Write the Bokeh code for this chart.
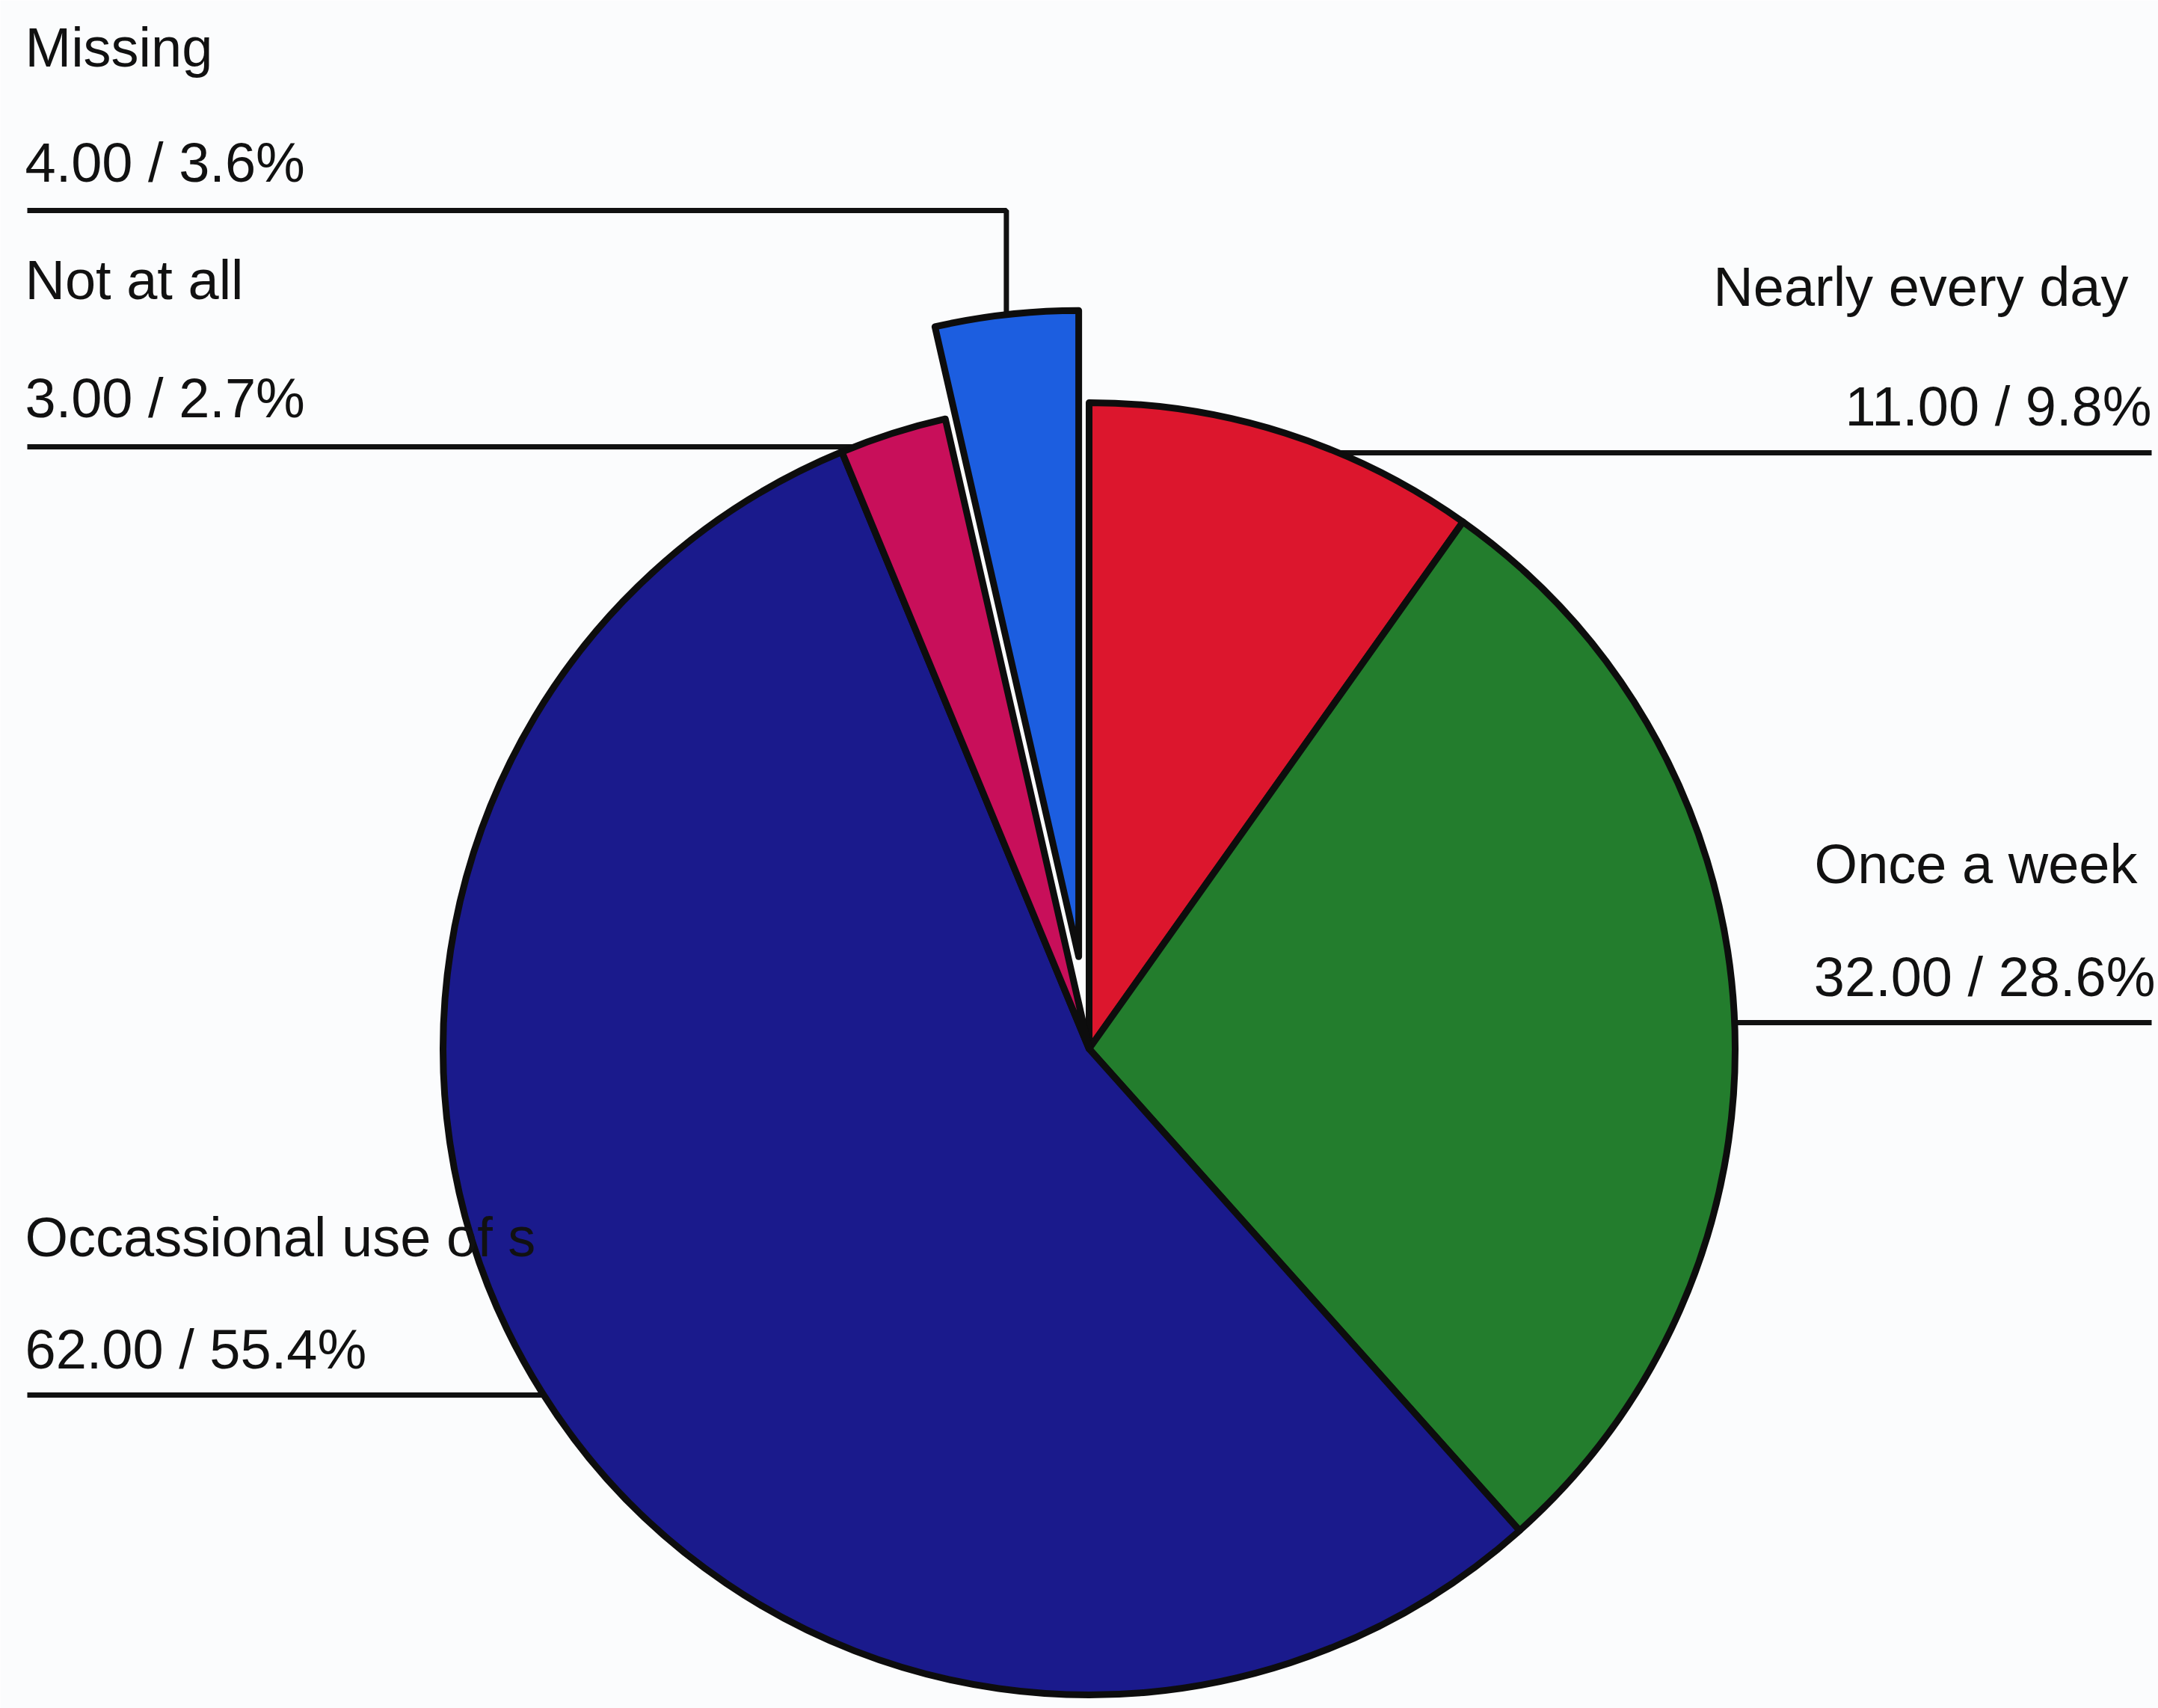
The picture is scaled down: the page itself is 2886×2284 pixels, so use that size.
import numpy as np
from bokeh.plotting import figure
from bokeh.models import Range1d, ColumnDataSource
from bokeh.core.properties import value
from bokeh.embed import file_html
from bokeh.resources import INLINE

# ---------------- data ----------------
categories = ["Nearly every day", "Once a week", "Occassional use of s", "Not at all", "Missing"]
counts = [11.00, 32.00, 62.00, 3.00, 4.00]
percents = [9.8, 28.6, 55.4, 2.7, 3.6]

# ---------------- layout / style ----------------
W, H = 2886, 2284
CX, CY = 1456, 1402          # pie centre (screen px)
R = 864                      # pie radius (px)
colors = ["#dc162d", "#237d2d", "#1a1a8c", "#c80f5a", "#1c5ee0"]
explode = [0, 0, 0, 0, 124]
side = ["right", "right", "left", "left", "left"]
name_x = [2846, 2858, 33, 33, 33]
val_x = [2877, 2882, 33, 33, 33]
TEXT_SHIFT = -22
name_base = [405, 1177, 1676, 396, 85]
val_base = [565, 1328, 1826, 554, 239]
line_y = [605, 1367, 1865, 597, 281]
elbow = [False, False, False, False, True]
LEFT_END, RIGHT_END = 36, 2877
FONT = "Liberation Sans"
FS = "74px"
TXT = "#111111"


def sy(y):
    return H - y


total = float(sum(counts))
cum = np.cumsum([0.0] + counts)
th0 = 360.0 * cum[:-1] / total        # clockwise from 12 o'clock
th1 = 360.0 * cum[1:] / total
mid = np.radians((th0 + th1) / 2.0)

cx = [CX + e * np.sin(m) for e, m in zip(explode, mid)]
cy = [sy(CY) + e * np.cos(m) for e, m in zip(explode, mid)]

wsrc = ColumnDataSource(dict(
    x=cx, y=cy,
    start=list(np.radians(90 - th0)),
    end=list(np.radians(90 - th1)),
    color=colors,
))

p = figure(width=W, height=H, x_range=Range1d(0, W), y_range=Range1d(0, H),
           x_axis_type=None, y_axis_type=None, toolbar_location=None,
           output_backend="svg", min_border=0)
p.outline_line_color = None
p.grid.visible = False
p.background_fill_color = "#fbfcfd"
p.border_fill_color = "#fbfcfd"

# leader lines
xs, ys = [], []
for i in range(len(categories)):
    ly = line_y[i]
    if elbow[i]:
        m = mid[i]
        px = cx[i] + R * np.sin(m)
        py = cy[i] + R * np.cos(m)
        xs.append([LEFT_END, px, px])
        ys.append([sy(ly), sy(ly), py])
    else:
        dx = np.sqrt(max(R ** 2 - (ly - CY) ** 2, 0.0))
        if side[i] == "right":
            xs.append([CX + dx, RIGHT_END])
        else:
            xs.append([LEFT_END, CX - dx])
        ys.append([sy(ly), sy(ly)])
p.multi_line(xs=xs, ys=ys, line_color="#111111", line_width=7)

p.wedge(x="x", y="y", radius=R, start_angle="start", end_angle="end",
        direction="clock", fill_color="color", line_color="#0d0d0d",
        line_width=9, line_join="round", source=wsrc)

# labels
names_l, names_r, vals_l, vals_r = ([] for _ in range(4))
for i, c in enumerate(categories):
    vtxt = f"{counts[i]:.2f} / {percents[i]}%"
    nb = sy(name_base[i] + TEXT_SHIFT)
    vb = sy(val_base[i] + TEXT_SHIFT)
    if side[i] == "right":
        names_r.append((name_x[i], nb, c))
        vals_r.append((val_x[i], vb, vtxt))
    else:
        names_l.append((name_x[i], nb, c))
        vals_l.append((val_x[i], vb, vtxt))

for group, align in ((names_l + vals_l, "left"), (names_r + vals_r, "right")):
    src = ColumnDataSource(dict(x=[g[0] for g in group], y=[g[1] for g in group],
                                t=[g[2] for g in group]))
    p.text(x="x", y="y", text="t", source=src, text_font=value(FONT),
           text_font_size=FS, text_align=align, text_baseline="alphabetic",
           text_color=TXT)

open("out.html", "w").write(file_html(p, INLINE))
